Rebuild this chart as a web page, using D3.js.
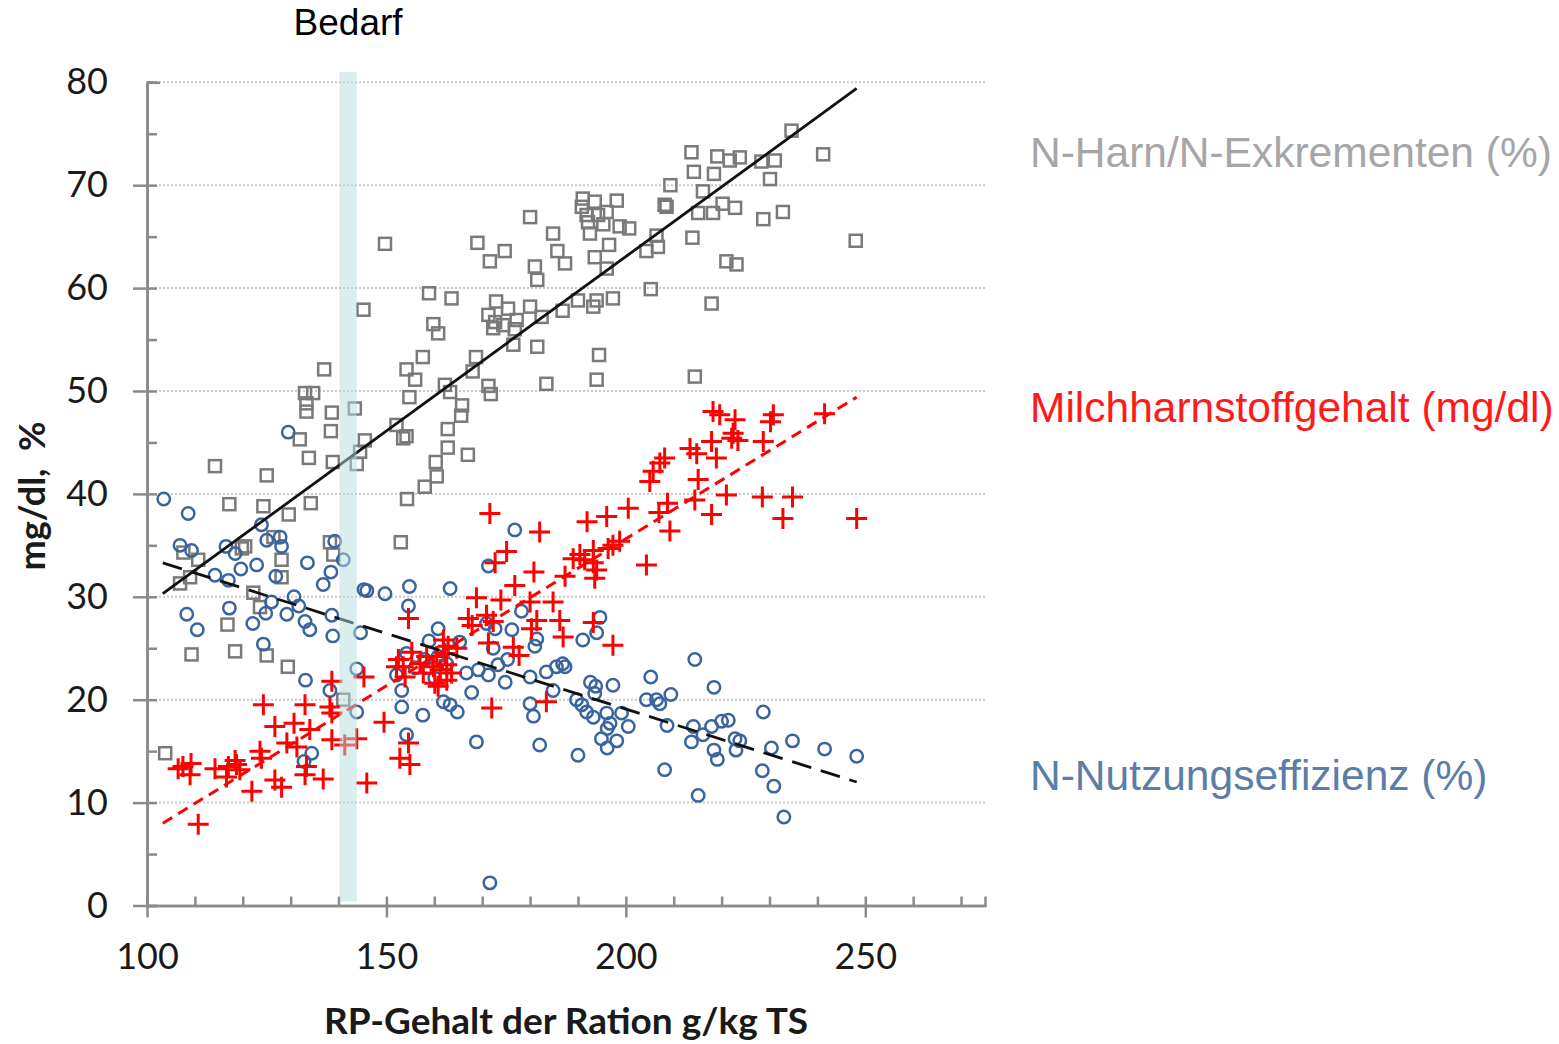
<!DOCTYPE html>
<html lang="de">
<head>
    <meta charset="UTF-8">
    <title>RP-Gehalt</title>
    <style>
        body { margin: 0; background: #fff; }
        text { font-family: Lato, "Open Sans", sans-serif; }
    </style>
</head>
<body>
<script src="https://d3js.org/d3.v7.min.js"></script>
<script>
    // N-Harn/N-Exkrementen (%) - squares
    const harnPoints = [[213.7,73.2],[219.1,72.8],[221.7,72.4],[223.8,72.7],[228.3,72.3],[231.1,72.4],[234.6,75.3],[241.2,73.0],[230.1,70.6],[214.2,71.3],[218.4,71.1],[216.1,69.4],[209.3,70.0],[208.1,68.1],[208.5,67.9],[215.1,67.3],[218.2,67.3],[220.2,68.2],[222.8,67.8],[228.7,66.7],[232.8,67.4],[213.9,64.9],[221.0,62.6],[223.1,62.3],[206.4,65.1],[206.7,64.0],[204.3,63.6],[205.2,59.9],[217.9,58.5],[214.4,51.4],[191.0,68.7],[193.5,68.4],[198.1,68.5],[190.8,67.9],[191.8,67.1],[194.2,67.1],[196.0,67.4],[195.3,66.2],[198.7,66.0],[200.7,65.8],[192.5,65.3],[196.5,64.2],[193.5,63.0],[196.0,61.9],[180.0,66.9],[184.8,65.3],[185.7,63.6],[187.3,62.4],[169.0,64.4],[174.7,63.6],[171.6,62.6],[181.0,62.1],[181.5,60.8],[197.3,59.0],[193.9,58.8],[190.0,58.8],[193.2,58.2],[186.8,57.8],[158.9,59.5],[163.6,59.0],[172.9,58.7],[175.4,58.0],[180.0,58.2],[171.3,57.4],[172.7,56.7],[174.4,56.4],[177.2,56.9],[176.8,56.0],[182.4,57.2],[159.8,56.5],[160.8,55.6],[172.3,56.1],[176.5,54.5],[181.5,54.3],[194.4,53.5],[193.9,51.1],[183.4,50.7],[157.6,53.3],[168.7,53.3],[154.2,52.1],[156.0,51.1],[162.2,50.6],[163.3,49.9],[168.0,51.9],[171.3,50.5],[171.8,49.7],[154.8,49.4],[165.8,48.6],[165.6,47.6],[248.0,64.6],[149.7,64.3],[145.2,57.9],[137.0,52.1],[133.0,49.8],[134.7,49.8],[133.3,48.8],[133.3,48.0],[138.6,47.9],[143.4,48.3],[138.4,46.1],[131.9,45.3],[152.1,46.7],[153.5,45.4],[154.2,45.6],[145.5,45.2],[144.5,44.1],[143.8,42.9],[133.8,43.5],[138.8,43.1],[160.3,43.1],[160.5,41.7],[158.0,40.7],[114.2,42.7],[125.0,41.8],[154.3,39.5],[117.2,39.0],[124.3,38.8],[129.6,38.0],[134.2,39.1],[153.0,35.3],[138.2,35.3],[138.9,34.1],[128.1,33.6],[128.1,31.9],[119.8,34.7],[107.6,34.3],[110.7,33.6],[106.9,31.3],[109.0,31.9],[122.2,30.4],[123.6,29.0],[116.8,27.3],[126.4,35.8],[120.5,34.9],[109.3,24.4],[118.4,24.7],[125.0,24.3],[129.4,23.2],[141.0,20.0],[103.8,14.8],[162.8,46.3],[162.8,44.5],[167.0,43.8],[192.1,66.4]];

    // N-Nutzungseffizienz (%) - circles
    const nuePoints = [[103.5,39.5],[108.6,38.1],[129.5,46.0],[123.9,37.0],[106.9,35.0],[109.3,34.5],[116.5,34.9],[118.4,34.2],[125.0,35.5],[127.8,35.8],[128.1,34.9],[122.9,33.1],[119.6,32.7],[114.2,32.1],[117.0,31.6],[126.9,32.0],[133.5,33.3],[139.2,35.4],[141.0,33.6],[138.4,32.4],[136.8,31.2],[145.3,30.7],[145.9,30.6],[149.7,30.3],[154.8,31.0],[154.6,29.1],[108.3,28.3],[110.5,26.8],[117.2,28.9],[126.0,29.5],[130.7,30.0],[131.7,29.1],[124.8,28.4],[129.2,28.3],[133.0,27.6],[134.0,26.8],[122.1,27.4],[138.6,28.2],[138.8,26.2],[144.6,26.5],[124.3,25.4],[154.2,24.5],[133.1,21.9],[138.2,20.9],[143.8,23.0],[143.8,18.8],[153.2,20.9],[153.2,19.3],[157.6,18.5],[154.2,16.6],[134.4,14.8],[132.8,14.0],[152.1,22.4],[161.9,19.8],[163.3,19.5],[164.8,18.8],[162.6,23.5],[163.3,30.8],[160.8,26.9],[158.9,25.7],[167.8,20.7],[166.7,22.6],[169.2,22.9],[171.3,22.4],[174.8,21.7],[173.3,23.4],[175.3,23.9],[165.3,25.6],[160.8,24.2],[158.5,23.1],[160.1,22.1],[170.9,27.4],[172.7,26.9],[176.2,26.8],[172.3,25.0],[178.2,28.6],[181.0,25.2],[180.0,22.2],[180.0,19.6],[180.7,18.4],[171.3,33.0],[176.8,36.5],[194.6,28.0],[193.9,26.5],[191.0,25.8],[181.4,25.9],[183.4,22.7],[185.5,23.2],[186.8,23.5],[187.3,23.2],[184.8,20.9],[168.8,15.9],[182.0,15.6],[190.0,14.6],[189.7,20.0],[190.8,19.5],[192.6,21.7],[193.7,21.3],[193.5,20.6],[197.3,21.4],[191.8,18.8],[193.2,18.3],[196.0,18.7],[196.7,17.7],[196.1,17.2],[199.1,18.7],[200.5,17.4],[194.9,16.2],[198.1,16.0],[196.1,15.3],[205.2,22.2],[204.3,20.0],[206.4,20.0],[207.1,19.6],[209.4,20.5],[208.6,17.5],[208.1,13.2],[214.4,23.9],[218.4,21.2],[214.1,17.4],[213.7,15.9],[216.1,16.6],[217.9,17.4],[220.0,17.9],[221.4,18.0],[218.4,15.1],[219.1,14.2],[222.8,16.2],[223.8,16.0],[223.0,15.1],[228.7,18.8],[230.4,15.3],[228.5,13.1],[230.9,11.6],[234.8,16.0],[241.5,15.2],[248.2,14.5],[215.1,10.7],[233.0,8.6],[171.6,2.2],[158.0,23.9],[156.0,23.1]];

    // Milchharnstoffgehalt (mg/dl) - crosses
    const mhsPoints = [[107.5,13.5],[109.0,12.7],[106.5,13.3],[109.2,13.8],[110.7,7.9],[114.2,13.3],[117.0,13.5],[118.4,14.1],[118.7,13.7],[116.6,12.5],[119.4,13.2],[121.9,11.1],[123.9,14.3],[123.6,15.0],[124.3,19.5],[126.7,17.4],[126.7,12.2],[128.1,11.5],[130.7,17.7],[129.2,15.8],[131.3,15.4],[133.0,19.5],[134.0,17.1],[133.3,13.5],[133.0,12.7],[136.8,12.3],[138.6,21.8],[138.2,19.3],[138.6,18.7],[138.6,16.1],[141.3,15.6],[143.8,16.2],[145.3,22.2],[145.9,11.9],[149.5,17.8],[152.5,23.9],[153.5,23.2],[154.6,15.8],[152.8,14.3],[154.9,13.7],[153.9,22.2],[158.4,24.2],[159.8,23.2],[157.7,22.6],[171.6,38.1],[182.0,36.3],[175.1,34.4],[172.7,33.3],[180.8,32.4],[176.8,31.1],[168.8,29.9],[173.9,29.7],[180.0,29.5],[184.8,29.5],[167.1,27.9],[170.9,28.2],[172.3,27.6],[181.4,27.7],[186.2,27.7],[180.3,26.9],[186.9,26.1],[193.2,27.5],[197.3,25.3],[154.6,27.9],[171.3,25.5],[176.5,25.1],[177.7,24.3],[164.7,25.0],[162.2,24.5],[157.0,23.5],[162.6,21.9],[152.1,23.2],[160.1,21.6],[172.0,19.2],[183.4,19.8],[218.2,48.0],[219.6,47.7],[222.8,47.2],[222.4,45.9],[230.8,47.7],[230.2,47.0],[241.5,47.8],[217.9,45.1],[222.1,45.4],[223.4,45.2],[228.7,45.1],[213.4,44.4],[214.8,43.9],[218.9,43.5],[208.1,43.5],[207.1,43.0],[205.7,42.2],[205.0,41.2],[215.1,41.4],[221.0,39.9],[228.5,39.7],[234.8,39.7],[232.8,37.6],[248.2,37.6],[217.9,38.0],[214.4,39.4],[208.7,39.1],[206.9,38.2],[209.2,36.4],[200.5,38.6],[196.0,37.8],[191.9,37.3],[204.3,33.1],[198.7,35.4],[197.3,35.0],[196.3,34.7],[193.2,34.5],[190.4,34.1],[189.0,33.7],[191.4,33.6],[193.2,33.3],[193.9,32.6],[193.5,31.8],[187.3,32.0],[161.9,25.8],[162.9,25.2],[160.5,24.2],[161.2,22.9],[160.8,21.3],[162.6,23.4],[163.6,22.6],[155.3,24.6],[167.9,27.2]];

    // trend lines (start / end)
    const harnTrend = [[103.3, 30.3], [248.2, 79.4]];
    const nueTrend = [[103.3, 33.3], [248.2, 12.0]];
    const mhsTrend = [[103.3, 8.0], [248.2, 49.4]];

    // Bedarf range, g/kg TS
    const bedarf = [140.2, 143.8];

    const xTicks = [100, 150, 200, 250];
    const xMinor = d3.range(100, 271, 10);
    const yTicks = [0, 10, 20, 30, 40, 50, 60, 70, 80];
    const yMinor = d3.range(0, 81, 5);

    const svg = d3.select("body").append("svg")
        .attr("width", 1559)
        .attr("height", 1044);

    const x = d3.scaleLinear().domain([100, 275]).range([147, 985]);
    const y = d3.scaleLinear().domain([0, 80]).range([905.5, 82.3]);

    // dotted grid
    svg.append("g")
        .selectAll("line")
        .data(yTicks.filter(d => d > 0))
        .enter().append("line")
        .attr("x1", x(100)).attr("x2", x(275))
        .attr("y1", d => y(d)).attr("y2", d => y(d))
        .attr("stroke", "#c9c9c9")
        .attr("stroke-width", 2)
        .attr("stroke-dasharray", "2,2");

    // Axes
    const axisColor = "#8a8a8a";

    const xMinorAxis = svg.append("g")
        .attr("transform", "translate(0," + y(0) + ")")
        .call(d3.axisBottom(x).tickValues(xMinor).tickSize(-9).tickFormat(""));

    const xAxis = svg.append("g")
        .attr("transform", "translate(0," + y(0) + ")")
        .call(d3.axisBottom(x).tickValues(xTicks).tickSizeInner(12).tickSizeOuter(0).tickPadding(26).tickFormat(d3.format("d")));

    const yMinorAxis = svg.append("g")
        .attr("transform", "translate(" + x(100) + ",0)")
        .call(d3.axisRight(y).tickValues(yMinor).tickSize(10).tickFormat(""));

    const yAxis = svg.append("g")
        .attr("transform", "translate(" + x(100) + ",0)")
        .call(d3.axisLeft(y).tickValues(yTicks).tickSizeInner(14).tickSizeOuter(0).tickPadding(25));

    [xMinorAxis, xAxis, yMinorAxis, yAxis].forEach(g => {
        g.select(".domain").attr("stroke", axisColor).attr("stroke-width", 2.5);
        g.selectAll(".tick line").attr("stroke", axisColor).attr("stroke-width", 2.5);
        g.selectAll(".tick text")
            .style("font-family", "Lato, sans-serif")
            .style("font-size", "36px")
            .attr("fill", "#1a1a1a");
    });
    // the 80 tick crosses the axis
    yAxis.selectAll(".tick line").attr("x2", d => d === 80 ? 13 : -14);

    // Squares
    svg.append("g")
        .selectAll("rect")
        .data(harnPoints)
        .enter().append("rect")
        .attr("x", d => x(d[0]) - 6)
        .attr("y", d => y(d[1]) - 6)
        .attr("width", 12)
        .attr("height", 12)
        .attr("fill", "none")
        .attr("stroke", "#7a7a7a")
        .attr("stroke-width", 2.5);

    // Circles
    svg.append("g")
        .selectAll("circle")
        .data(nuePoints)
        .enter().append("circle")
        .attr("cx", d => x(d[0]))
        .attr("cy", d => y(d[1]))
        .attr("r", 6.2)
        .attr("fill", "none")
        .attr("stroke", "#3a649e")
        .attr("stroke-width", 2.5);

    // Crosses
    svg.append("g")
        .selectAll("path")
        .data(mhsPoints)
        .enter().append("path")
        .attr("d", d => {
            const cx = x(d[0]), cy = y(d[1]);
            return "M" + (cx - 10.5) + "," + cy + "H" + (cx + 10.5) + "M" + cx + "," + (cy - 10.5) + "V" + (cy + 10.5);
        })
        .attr("stroke", "#ff0000")
        .attr("stroke-width", 3);

    // Trend lines
    const line = d3.line().x(d => x(d[0])).y(d => y(d[1]));

    svg.append("path").datum(harnTrend)
        .attr("d", line).attr("fill", "none")
        .attr("stroke", "#111").attr("stroke-width", 2.8);

    svg.append("path").datum(nueTrend)
        .attr("d", line).attr("fill", "none")
        .attr("stroke", "#111").attr("stroke-width", 2.8)
        .attr("stroke-dasharray", "20,10");

    svg.append("path").datum(mhsTrend)
        .attr("d", line).attr("fill", "none")
        .attr("stroke", "#ff0000").attr("stroke-width", 3)
        .attr("stroke-dasharray", "11,7");

    // Bedarf band, drawn over the points
    svg.append("rect")
        .attr("x", x(bedarf[0]))
        .attr("width", x(bedarf[1]) - x(bedarf[0]))
        .attr("y", y(81))
        .attr("height", y(0.4) - y(81))
        .attr("fill", "#b5dddd")
        .attr("opacity", 0.5);

    svg.append("text")
        .attr("x", x((bedarf[0] + bedarf[1]) / 2))
        .attr("y", 35)
        .attr("text-anchor", "middle")
        .style("font-family", "'Liberation Sans', Arial, sans-serif")
        .style("font-size", "37px")
        .attr("fill", "#000")
        .text("Bedarf");

    // Series labels
    const labels = [
        {text: "N-Harn/N-Exkrementen (%)", y: 167, color: "#a6a6a6"},
        {text: "Milchharnstoffgehalt (mg/dl)", y: 422, color: "#ff1a1a"},
        {text: "N-Nutzungseffizienz (%)", y: 790, color: "#5b7da8"}
    ];
    svg.selectAll(".serieslabel")
        .data(labels)
        .enter().append("text")
        .attr("x", 1030)
        .attr("y", d => d.y)
        .style("font-family", "'Liberation Sans', Arial, sans-serif")
        .style("font-size", "42.5px")
        .attr("fill", d => d.color)
        .text(d => d.text);

    // Axis titles
    svg.append("text")
        .attr("x", 566)
        .attr("y", 1034)
        .attr("text-anchor", "middle")
        .style("font-size", "37px")
        .style("font-weight", "bold")
        .attr("fill", "#1a1a1a")
        .text("RP-Gehalt der Ration g/kg TS");

    svg.append("text")
        .attr("transform", "translate(45,496) rotate(-90)")
        .attr("text-anchor", "middle")
        .style("font-size", "36px")
        .style("font-weight", "bold")
        .style("white-space", "pre")
        .attr("fill", "#1a1a1a")
        .text("mg/dl,  %");
</script>
</body>
</html>
